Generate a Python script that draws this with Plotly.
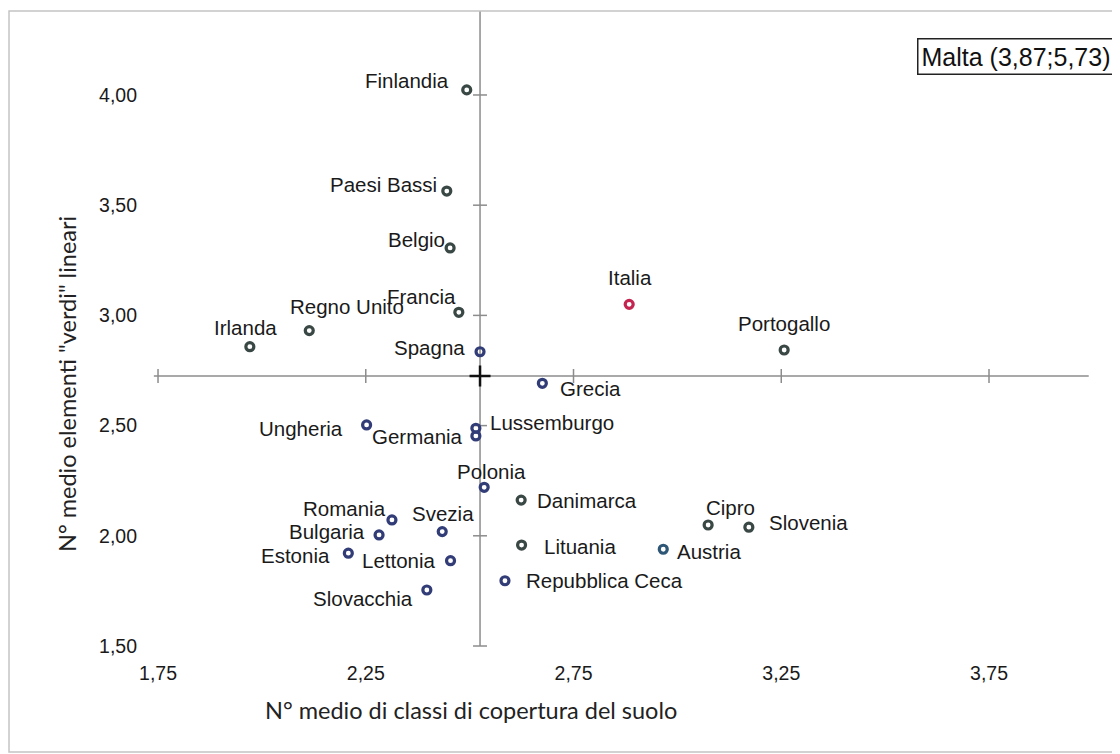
import plotly.graph_objects as go

# ---------------- data ----------------
countries = ["Finlandia", "Paesi Bassi", "Belgio", "Francia", "Regno Unito", "Irlanda",
             "Spagna", "Italia", "Portogallo", "Grecia", "Lussemburgo", "Germania",
             "Ungheria", "Polonia", "Danimarca", "Romania", "Svezia", "Bulgaria",
             "Estonia", "Lettonia", "Slovacchia", "Lituania", "Austria", "Cipro",
             "Slovenia", "Repubblica Ceca"]
x_vals = [2.493, 2.445, 2.453, 2.474, 2.114, 1.971,
          2.525, 2.884, 3.257, 2.675, 2.515, 2.515,
          2.252, 2.535, 2.624, 2.313, 2.434, 2.282,
          2.208, 2.454, 2.397, 2.625, 2.966, 3.074,
          3.172, 2.585]
y_vals = [4.023, 3.564, 3.306, 3.014, 2.931, 2.858,
          2.835, 3.050, 2.843, 2.692, 2.488, 2.453,
          2.503, 2.220, 2.162, 2.072, 2.019, 2.004,
          1.921, 1.887, 1.754, 1.958, 1.939, 2.049,
          2.039, 1.796]

x_tickvals = [1.75, 2.25, 2.75, 3.25, 3.75]
x_ticktext = ["1,75", "2,25", "2,75", "3,25", "3,75"]
y_tickvals = [1.50, 2.00, 2.50, 3.00, 3.50, 4.00]
y_ticktext = ["1,50", "2,00", "2,50", "3,00", "3,50", "4,00"]

mean_x = 2.525   # crossing point of the two reference axes
mean_y = 2.725

x_title = "N° medio di classi di copertura del suolo"
y_title = 'N° medio elementi "verdi" lineari'
note_text = "Malta (3,87;5,73)"

# ---------------- styles ----------------
GREY = "#3a4845"
NAVY = "#323d78"
RED = "#c42450"
TEAL = "#2e5676"
point_colors = [GREY, GREY, GREY, GREY, GREY, GREY,
                NAVY, RED, GREY, NAVY, NAVY, NAVY,
                NAVY, NAVY, GREY, NAVY, NAVY, NAVY,
                NAVY, NAVY, NAVY, GREY, TEAL, GREY,
                GREY, NAVY]
# label placement: (xanchor, dx px, dy px (down positive))
label_pos = [("right", -16, -9), ("right", -8, -7), ("right", -3, -8), ("right", -1, -16),
             ("left", -21, -24), ("center", -4, -19), ("right", -13, -4), ("center", 1, -27),
             ("center", 0, -26), ("left", 16, 5), ("left", 12, -6), ("right", -11, 1),
             ("right", -22, 4), ("center", 7, -16), ("left", 14, 0), ("right", -4, -11),
             ("center", 1, -18), ("right", -12, -3), ("right", -16, 2), ("right", -13, 0),
             ("right", -12, 8), ("left", 20, 1), ("left", 12, 2), ("center", 22, -18),
             ("left", 18, -5), ("left", 19, 0)]

X_RANGE = [1.7307, 4.0051]
Y_RANGE = [1.4592, 4.381]
HLINE_EXT = [1.74, 3.99]
VLINE_EXT = [1.50, 4.381]
LINE_COL = "#8c8c8c"
FONT = "Liberation Sans, Arial, sans-serif"
TITLE_FONT = "Lato, Carlito, sans-serif"

fig = go.Figure()

# reference axes through the mean
fig.add_shape(type="line", x0=HLINE_EXT[0], x1=HLINE_EXT[1], y0=mean_y, y1=mean_y,
              xref="x", yref="y", line=dict(color=LINE_COL, width=1.5), layer="below")
fig.add_shape(type="line", x0=mean_x, x1=mean_x, y0=VLINE_EXT[0], y1=VLINE_EXT[1],
              xref="x", yref="y", line=dict(color=LINE_COL, width=1.5), layer="below")

# small ticks on reference axes
fig.add_trace(go.Scatter(x=x_tickvals, y=[mean_y] * len(x_tickvals), mode="markers",
                         marker=dict(symbol="line-ns", size=10,
                                     line=dict(color=LINE_COL, width=1.5)),
                         hoverinfo="skip", showlegend=False))
fig.add_trace(go.Scatter(x=[mean_x] * len(y_tickvals), y=y_tickvals, mode="markers",
                         marker=dict(symbol="line-ew", size=10,
                                     line=dict(color=LINE_COL, width=1.5)),
                         hoverinfo="skip", showlegend=False))

# points
fig.add_trace(go.Scatter(x=x_vals, y=y_vals, mode="markers", text=countries,
                         marker=dict(symbol="circle-open", size=8,
                                     color=point_colors,
                                     line=dict(color=point_colors, width=3.2)),
                         showlegend=False))

# crossing mark
fig.add_trace(go.Scatter(x=[mean_x], y=[mean_y], mode="markers",
                         marker=dict(symbol="cross-thin", size=15,
                                     line=dict(color="#111111", width=2.5)),
                         hoverinfo="skip", showlegend=False))

# labels
for name, xv, yv, (anc, dx, dy) in zip(countries, x_vals, y_vals, label_pos):
    fig.add_annotation(x=xv, y=yv, xref="x", yref="y", text=name, showarrow=False,
                       xanchor=anc, yanchor="middle", xshift=dx, yshift=-dy,
                       font=dict(family=FONT, size=20.5, color="#1a1a1a"))

# axis titles
fig.add_annotation(x=0.3397, y=-0.0854, xref="paper", yref="paper", text=x_title,
                   showarrow=False, xanchor="center", yanchor="middle",
                   font=dict(family=TITLE_FONT, size=23.5, color="#222222"))
fig.add_annotation(x=-0.0878, y=0.4208, xref="paper", yref="paper", text=y_title,
                   showarrow=False, xanchor="center", yanchor="middle", textangle=-90,
                   font=dict(family=TITLE_FONT, size=23.5, color="#222222"))

# Malta note
fig.add_annotation(x=1.0212, y=0.9293, xref="paper", yref="paper", text=note_text,
                   showarrow=False, xanchor="right", yanchor="middle",
                   bordercolor="#222222", borderwidth=1.5, borderpad=3,
                   bgcolor="white",
                   font=dict(family=FONT, size=25, color="#111111"))

# outer frame
fig.add_shape(type="rect", xref="paper", yref="paper", x0=-0.1492, x1=1.0254,
              y0=-0.1506, y1=1.0, line=dict(color="#c4c4c4", width=1.5))

fig.update_layout(
    width=1112, height=746,
    margin=dict(l=142, r=25, t=3, b=99),
    paper_bgcolor="white", plot_bgcolor="white",
    xaxis=dict(range=X_RANGE, tickvals=x_tickvals, ticktext=x_ticktext,
               showgrid=False, zeroline=False, showline=False, ticks="",
               ticklabelstandoff=4,
               tickfont=dict(family=FONT, size=19.5, color="#1a1a1a")),
    yaxis=dict(range=Y_RANGE, tickvals=y_tickvals, ticktext=y_ticktext,
               showgrid=False, zeroline=False, showline=False, ticks="",
               ticklabelstandoff=12,
               tickfont=dict(family=FONT, size=19.5, color="#1a1a1a")),
)

fig.write_html("out.html")
